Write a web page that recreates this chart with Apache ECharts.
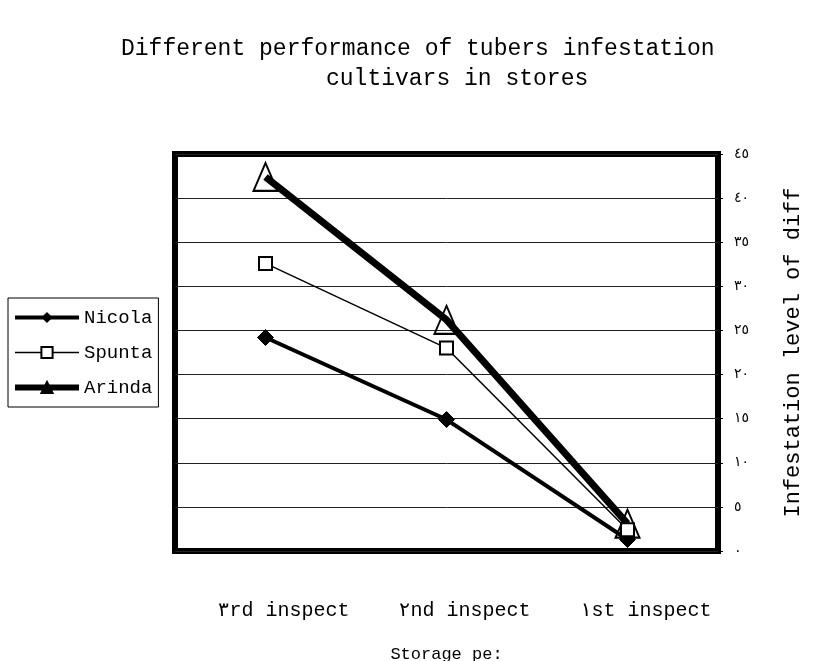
<!DOCTYPE html>
<html>
<head>
<meta charset="utf-8">
<script src="https://cdn.jsdelivr.net/npm/echarts@6/dist/echarts.min.js"></script>
<style>
  html, body { margin: 0; padding: 0; background: #fff; }
  #c1 { width: 819px; height: 661px; }
</style>
</head>
<body>
<div id="c1"></div>
<script>
    // 数据
    var categories = ['٣rd inspect', '٢nd inspect', '١st inspect'];
    var nicola = [24.2, 14.9, 1.3];
    var spunta = [32.6, 23, 2.4];
    var arinda = [42.4, 26.2, 3.1];
    var yTickLabels = ['٠', '٥', '١٠', '١٥', '٢٠', '٢٥', '٣٠', '٣٥', '٤٠', '٤٥'];

    var mono = '"Liberation Mono", "DejaVu Sans Mono", monospace';
    var chart = echarts.init(document.getElementById('c1'));

    var option = {
        backgroundColor: '#fff',
        textStyle: {fontFamily: mono, color: '#000'},
        title: [
            {
                text: 'Different performance of tubers infestation',
                left: 116, top: 32,
                textStyle: {fontFamily: mono, fontSize: 23, fontWeight: 'normal', color: '#000'}
            },
            {
                text: 'cultivars in stores',
                left: 321, top: 62,
                textStyle: {fontFamily: mono, fontSize: 23, fontWeight: 'normal', color: '#000'}
            }
        ],
        legend: {
            orient: 'vertical',
            left: 8, top: 298,
            width: 152,
            padding: [10, 6, 10, 4],
            itemGap: 16,
            itemWidth: 64,
            itemHeight: 14,
            borderColor: '#000',
            borderWidth: 1,
            textStyle: {fontFamily: mono, fontSize: 19, color: '#000', width: 72, overflow: 'truncate', ellipsis: ''},
            data: [
                {name: 'Nicola', lineStyle: {width: 4}},
                {name: 'Spunta', lineStyle: {width: 1.5}},
                {name: 'Arinda', lineStyle: {width: 6}, itemStyle: {color: '#000'}}
            ]
        },
        grid: {
            left: 175, right: 101, top: 154, bottom: 110,
            outerBoundsMode: 'none',
            show: true,
            borderColor: '#000',
            borderWidth: 6
        },
        xAxis: {
            type: 'category',
            data: categories,
            name: 'Storage pe:',
            nameLocation: 'middle',
            nameGap: 95,
            nameTextStyle: {fontFamily: mono, fontSize: 17, color: '#000'},
            axisLine: {show: false},
            axisTick: {show: false},
            axisLabel: {fontFamily: mono, fontSize: 20, color: '#000', margin: 50, padding: [0, 0, 0, 36]}
        },
        yAxis: {
            type: 'value',
            position: 'right',
            min: 0, max: 45, interval: 5,
            name: 'Infestation level of diff',
            nameLocation: 'middle',
            nameRotate: 90,
            nameGap: 64,
            nameTextStyle: {fontFamily: mono, fontSize: 22, color: '#000'},
            axisLine: {show: false},
            axisTick: {show: true, length: 5, lineStyle: {color: '#000'}},
            axisLabel: {
                fontFamily: '"DejaVu Sans", sans-serif', fontSize: 14, color: '#000', margin: 16,
                formatter: function (v) { return yTickLabels[Math.round(v / 5)]; }
            },
            splitLine: {show: true, lineStyle: {color: '#222', width: 1}}
        },
        series: [
            {
                name: 'Nicola', type: 'line', data: nicola,
                symbol: 'diamond', symbolSize: 16,
                lineStyle: {color: '#000', width: 4},
                itemStyle: {color: '#000', borderColor: '#000'}
            },
            {
                name: 'Spunta', type: 'line', data: spunta,
                symbol: 'rect', symbolSize: 13,
                lineStyle: {color: '#000', width: 1.5},
                itemStyle: {color: '#fff', borderColor: '#000', borderWidth: 2}
            },
            {
                name: 'Arinda', type: 'line', data: arinda,
                symbol: 'triangle', symbolSize: [24, 28],
                lineStyle: {color: '#000', width: 7},
                itemStyle: {color: 'rgba(255,255,255,0)', borderColor: '#000', borderWidth: 2}
            }
        ]
    };
    chart.setOption(option);
</script>
</body>
</html>
